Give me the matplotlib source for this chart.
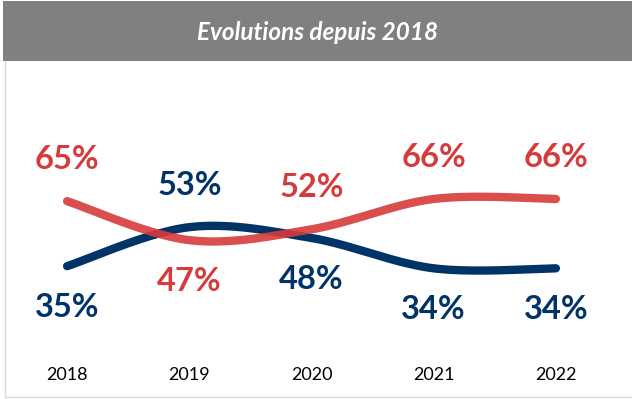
import numpy as np
import matplotlib.pyplot as plt
from matplotlib.patches import Rectangle
from matplotlib.lines import Line2D

years = ["2018", "2019", "2020", "2021", "2022"]
red_values = [65, 47, 52, 66, 66]
blue_values = [35, 53, 48, 34, 34]
red_above = [True, False, True, True, True]
blue_above = [False, True, False, False, False]

RED = "#D63B3B"
BLUE = "#003366"


def smooth(xs, ys, steps=40):
    """Catmull-Rom style bezier smoothing, like office chart smoothed lines."""
    pts = np.column_stack([xs, ys]).astype(float)
    padded = np.vstack([pts[0], pts, pts[-1]])
    out = []
    for i in range(len(pts) - 1):
        p0, p1, p2, p3 = padded[i], padded[i + 1], padded[i + 2], padded[i + 3]
        c1 = p1 + (p2 - p0) / 6
        c2 = p2 - (p3 - p1) / 6
        t = np.linspace(0, 1, steps)[:, None]
        seg = ((1 - t) ** 3) * p1 + 3 * ((1 - t) ** 2) * t * c1 + 3 * (1 - t) * t ** 2 * c2 + t ** 3 * p2
        out.append(seg if i == 0 else seg[1:])
    out = np.vstack(out)
    return out[:, 0], out[:, 1]


fig = plt.figure(figsize=(6.32, 3.99), dpi=100)

# header bar and frame
fig.patches.append(Rectangle((3 / 632, 338 / 399), 629 / 632, 60 / 399,
                             transform=fig.transFigure, facecolor="#808080",
                             edgecolor="none", zorder=0))
fig.text(318 / 632, 367 / 399, "Evolutions depuis 2018", color="white",
         fontsize=17.5, fontweight="bold", fontstyle="italic", family="Lato",
         ha="center", va="center")
fig.lines.append(Line2D([5 / 632, 5 / 632], [2 / 399, 338 / 399],
                        transform=fig.transFigure, color="#D9D9D9", lw=1))
fig.lines.append(Line2D([5 / 632, 1], [2 / 399, 2 / 399],
                        transform=fig.transFigure, color="#D9D9D9", lw=1))

ax = fig.add_axes([6 / 632, 57 / 399, 611 / 632, 216.7 / 399])
ax.set_xlim(-0.5, 4.5)
ax.set_ylim(0, 100)
ax.axis("off")

x = np.arange(len(years))
bx, by = smooth(x, blue_values)
ax.plot(bx, by, color=BLUE, lw=6, solid_capstyle="round", zorder=2)
rx, ry = smooth(x, red_values)
ax.plot(rx, ry, color=RED, lw=6, alpha=0.9, solid_capstyle="round", zorder=3)

for xi, v, up in zip(x, red_values, red_above):
    ax.annotate(f"{v}%", (xi, v), xytext=(0, 30 if up else -30),
                textcoords="offset points", ha="center", va="center",
                color=RED, fontsize=23.5, fontweight="bold", family="Lato")
for xi, v, up in zip(x, blue_values, blue_above):
    ax.annotate(f"{v}%", (xi, v), xytext=(0, 30 if up else -30),
                textcoords="offset points", ha="center", va="center",
                color=BLUE, fontsize=23.5, fontweight="bold", family="Lato")

for xi, yr in zip(x, years):
    ax.text(xi, -15.2, yr, ha="center", va="center", fontsize=13,
            family="Lato", color="black", clip_on=False)

fig.savefig("out.png", dpi=100)
